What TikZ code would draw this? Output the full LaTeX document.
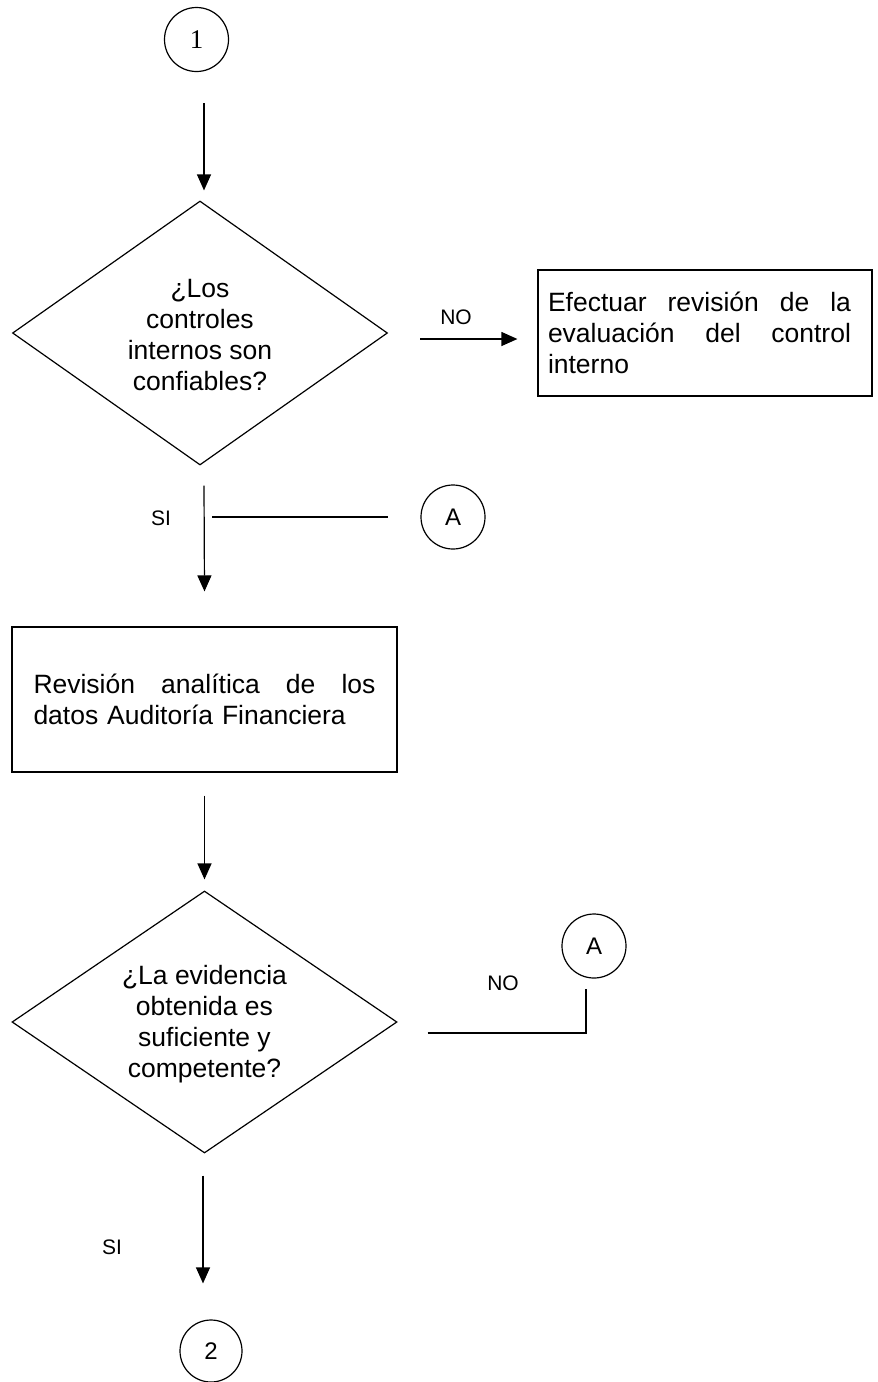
\documentclass[tikz,border=0pt]{standalone}
\usepackage{fontspec}
\setmainfont{Liberation Sans}
\newfontfamily\serifone{Liberation Serif}
\usetikzlibrary{shapes.geometric,arrows.meta,calc}
\newcommand{\spreadline}[2]{\leavevmode\hbox to #1{#2}}
\begin{document}
\begin{tikzpicture}[x=1pt,y=-1pt,
  line width=1.2pt,
  big/.style={font=\fontsize{26.5}{31}\selectfont},
  small/.style={font=\fontsize{21}{24}\selectfont},
  conn/.style={draw,circle,minimum size=64pt,inner sep=0pt,font=\fontsize{24}{26}\selectfont},
  decision/.style={draw,diamond,inner sep=0pt},
  process/.style={draw,rectangle,inner sep=0pt},
  qtext/.style={big,align=center,inner sep=0pt},
  arr/.style={-{Triangle[width=14pt,length=16pt]}}]
\useasboundingbox[fill=white] (0,0) rectangle (878,1382);

% nodes
\node[conn,font=\serifone\fontsize{27}{29}\selectfont] (c1) at (196.5,39.5) {1};
\node[decision,minimum width=375pt,minimum height=264pt] (d1) at (200,333) {};
\node[qtext] (d1t) at (200,335) {¿Los\\controles\\internos son\\confiables?};
\node[process,minimum width=334pt,minimum height=126pt,big,text width=314pt,inner xsep=10pt,align=left] (b1) at (705,333)
  {\spreadline{303pt}{Efectuar\hfill revisión\hfill de\hfill la}\\
   \spreadline{303pt}{evaluación\hfill del\hfill control}\\
   interno};
\node[conn] (a1) at (453,517) {A};
\node[process,minimum width=385pt,minimum height=145pt,big,text width=342pt,inner xsep=21.5pt,align=left] (b2) at (204.5,699.5)
  {\spreadline{342pt}{Revisión\hfill analítica\hfill de\hfill los}\\
   datos Auditoría Financiera};
\node[decision,minimum width=385pt,minimum height=262pt] (d2) at (204.5,1022) {};
\node[qtext] (d2t) at (204.5,1024) {¿La evidencia\\obtenida es\\suficiente y\\competente?};
\node[conn] (a2) at (594,946) {A};
\node[conn,minimum size=62pt] (c2) at (211,1351) {2};

% labels
\node[small] (no1) at (456,317) {NO};
\node[small] (si1) at (161,518) {SI};
\node[small] (no2) at (503,983) {NO};
\node[small] (si2) at (112,1247) {SI};

% connectors
\draw[arr] ([xshift=7.5pt,yshift=-31pt]c1.south) -- ([xshift=4pt,yshift=10pt]d1.north);
\draw[arr] ([xshift=32pt,yshift=-6pt]d1.east) -- ([xshift=-20pt,yshift=-6pt]b1.west);
\draw[arr] ([xshift=4pt,yshift=-20pt]d1.south) -- ([yshift=35pt]b2.north);
\coordinate (j1) at (212,517);
\draw (j1) -- ([xshift=-32pt]a1.west);
\draw[arr] ([yshift=-23pt]b2.south) -- ([yshift=11pt]d2.north);
\draw ([xshift=30pt,yshift=-11pt]d2.east) -| ([xshift=-8pt,yshift=-10pt]a2.south);
\draw[arr] ([xshift=-1.5pt,yshift=-22pt]d2.south) -- ([xshift=-8pt,yshift=36pt]c2.north);
\end{tikzpicture}
\end{document}
